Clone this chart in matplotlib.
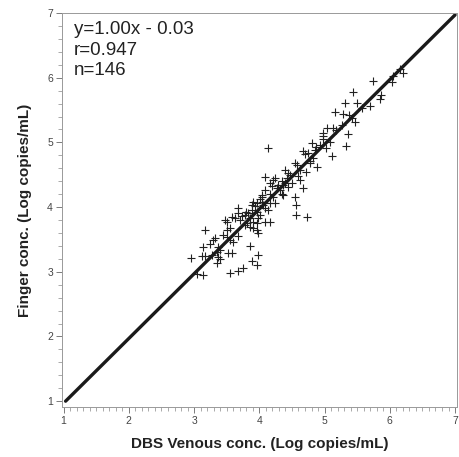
import matplotlib
matplotlib.use("Agg")
import matplotlib.pyplot as plt
from matplotlib.ticker import MultipleLocator

plt.rcParams["font.family"] = ["Liberation Sans", "DejaVu Sans"]

# DBS venous vs finger concentration (log copies/mL)
venous = [6.15, 6.20, 6.05, 6.03, 5.74, 5.43, 5.86, 5.85, 5.31, 5.49,
          5.69, 5.57, 5.16, 5.28, 5.37, 5.42, 5.46, 5.26, 5.03, 5.13,
          4.97, 4.97, 4.97, 5.36, 5.08, 4.80, 4.87, 4.85, 4.13, 5.33,
          4.67, 4.74, 4.70, 5.11, 4.82, 4.54, 4.57, 4.77, 4.88, 4.71,
          4.44, 4.47, 4.59, 4.08, 4.24, 4.34, 4.39, 4.36, 4.16, 4.19,
          4.67, 4.27, 4.31, 4.21, 4.50, 4.44, 4.34, 4.04, 4.01, 4.54,
          4.36, 4.16, 4.21, 4.56, 4.73, 4.56, 3.90, 3.96, 4.04, 3.88,
          4.05, 3.94, 4.16, 4.24, 4.08, 4.13, 3.67, 3.88, 3.82, 3.96,
          4.01, 3.79, 3.78, 3.68, 3.73, 3.58, 3.62, 3.47, 3.50, 3.90,
          3.96, 4.08, 4.16, 3.81, 3.85, 3.90, 3.96, 3.16, 3.50, 3.44,
          3.50, 3.67, 3.98, 3.32, 3.29, 3.55, 3.59, 3.24, 3.13, 3.36,
          3.85, 3.39, 3.35, 3.52, 3.58, 3.12, 3.16, 2.95, 3.36, 3.39,
          3.35, 3.98, 3.88, 3.96, 3.75, 3.67, 3.55, 3.04, 3.13, 3.98,
          3.78, 4.04, 4.28, 4.42, 4.62, 4.77, 4.93, 5.17, 3.70, 3.55,
          3.27, 4.08, 4.40, 3.85, 4.62, 5.02]
finger = [6.13, 6.07, 6.02, 5.93, 5.95, 5.78, 5.74, 5.67, 5.61, 5.61,
          5.57, 5.53, 5.47, 5.44, 5.42, 5.37, 5.31, 5.27, 5.23, 5.23,
          5.14, 5.10, 5.05, 5.13, 5.00, 4.99, 4.93, 4.89, 4.91, 4.94,
          4.86, 4.83, 4.82, 4.79, 4.76, 4.68, 4.65, 4.68, 4.62, 4.55,
          4.52, 4.49, 4.48, 4.46, 4.45, 4.40, 4.37, 4.34, 4.37, 4.32,
          4.29, 4.29, 4.26, 4.42, 4.38, 4.31, 4.21, 4.15, 4.12, 4.15,
          4.18, 4.21, 4.15, 4.03, 3.84, 3.87, 4.08, 4.06, 4.08, 4.03,
          4.03, 4.01, 4.06, 4.06, 3.98, 3.95, 3.98, 3.95, 3.91, 3.92,
          3.87, 3.92, 3.87, 3.91, 3.86, 3.84, 3.83, 3.80, 3.77, 3.77,
          3.75, 3.77, 3.77, 3.75, 3.69, 3.67, 3.64, 3.64, 3.64, 3.57,
          3.53, 3.55, 3.60, 3.52, 3.49, 3.49, 3.46, 3.43, 3.38, 3.38,
          3.40, 3.33, 3.30, 3.29, 3.29, 3.24, 3.24, 3.21, 3.23, 3.19,
          3.13, 3.26, 3.16, 3.10, 3.06, 3.01, 2.98, 2.96, 2.95, 3.83,
          3.72, 4.18, 4.34, 4.45, 4.57, 4.72, 4.96, 5.19, 3.80, 3.67,
          3.26, 4.26, 4.57, 3.83, 4.42, 4.91]

slope = 1.00
intercept = -0.03
r_value = 0.947
fit_x = [1.03, 7.0]

fig = plt.figure(figsize=(4.6, 4.57), dpi=100)
ax = fig.add_axes([62 / 460, 1 - 407 / 457, 395 / 460, 394 / 457])

ax.plot(venous, finger, "+", color="#222222", markersize=5.2, markeredgewidth=0.8)
ax.plot(fit_x, [slope * v + intercept for v in fit_x], color="#1a1a1a",
        linewidth=2.4, solid_capstyle="round")

ax.set_xlim(0.975, 7.03)
ax.set_ylim(0.91, 7.0)
ax.xaxis.set_major_locator(MultipleLocator(1))
ax.xaxis.set_minor_locator(MultipleLocator(0.1))
ax.yaxis.set_major_locator(MultipleLocator(1))
ax.yaxis.set_minor_locator(MultipleLocator(0.2))
ax.tick_params(which="major", length=4, width=0.6, color="#666666",
               labelsize=7.5, labelcolor="#444444", pad=2.5)
ax.tick_params(which="minor", length=3, width=0.5, color="#888888")
for sp in ax.spines.values():
    sp.set_color("#999999")
    sp.set_linewidth(0.7)

ax.set_xlabel("DBS Venous conc. (Log copies/mL)", fontsize=11, fontweight="bold",
              color="#222222", labelpad=8)
ax.set_ylabel("Finger conc. (Log copies/mL)", fontsize=11, fontweight="bold",
              color="#222222", labelpad=11)

ax.text(0.03, 0.979, "y=%.2fx - %.2f" % (slope, -intercept), transform=ax.transAxes,
        fontsize=13.5, va="top", color="#222222")
ax.text(0.03, 0.927, "r=%.3f" % r_value, transform=ax.transAxes,
        fontsize=13.5, va="top", color="#222222")
ax.text(0.03, 0.875, "n=%d" % len(venous), transform=ax.transAxes,
        fontsize=13.5, va="top", color="#222222")

fig.savefig("out.png", dpi=100)
